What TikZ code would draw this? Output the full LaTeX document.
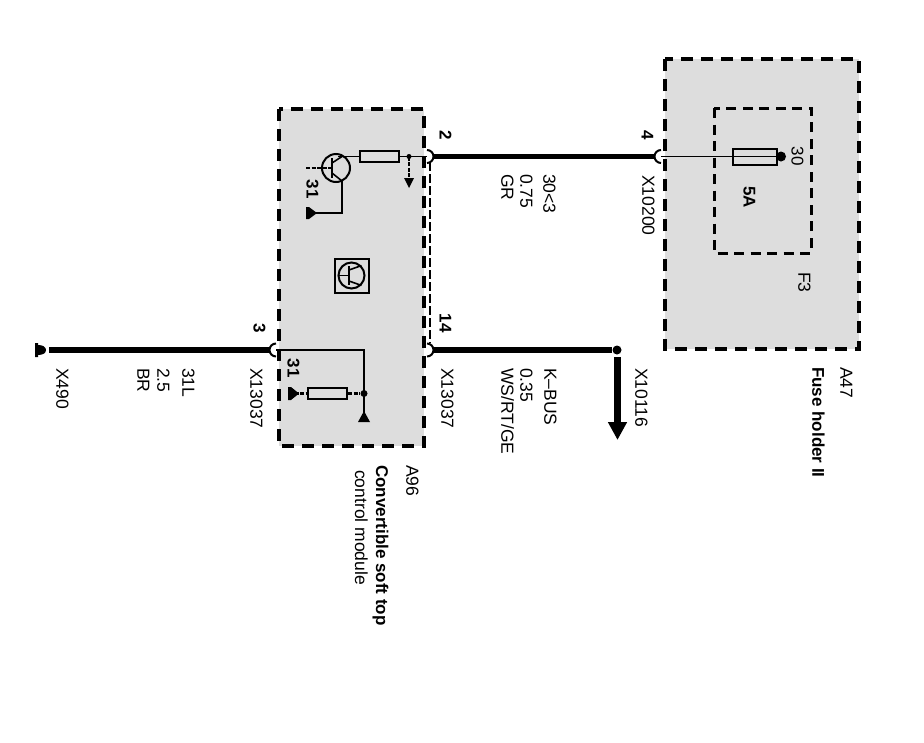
\documentclass[tikz,border=0pt]{standalone}
\usepackage{fontspec}
\setmainfont{Liberation Sans}
\usetikzlibrary{arrows.meta}

\definecolor{boxgray}{RGB}{221,221,221}

\tikzset{
 modulebox/.style = {draw, fill=boxgray, line width=3.6pt, dash pattern=on 12pt off 8pt},
 innerbox/.style = {draw, line width=3pt, dash pattern=on 10pt off 6.5pt},
 wire/.style = {line width=5.8pt},
 thinwire/.style = {line width=1.6pt},
 dashwire/.style = {line width=2.2pt, dash pattern=on 4pt off 1.5pt},
 part/.style = {draw, fill=boxgray, line width=2pt, minimum width=39pt, minimum height=11pt, inner sep=0pt},
 lbl/.style = {rotate=-90, anchor=west, inner sep=0pt, yshift=1.5pt, font=\fontsize{17.5pt}{17.5pt}\selectfont},
 headlbl/.style = {lbl, font=\fontsize{17pt}{17pt}\bfseries},
 pin/.style = {lbl, anchor=center, font=\fontsize{17pt}{17pt}\bfseries},
 dot/.style = {circle, fill, inner sep=0pt, minimum size=#1},
 plug/.style = {line width=2pt}
}

\begin{document}
\begin{tikzpicture}[x=1pt, y=-1pt]
\useasboundingbox (0,0) rectangle (924,742);

% modules
\draw[modulebox] (665,59) rectangle (859,349);
\draw[innerbox] (714,108) rectangle (811,253);
\draw[modulebox] (279,109) rectangle (424,446);
\draw[line width=1.2pt, dash pattern=on 9pt off 3pt] (430,162) -- (430,343);

% plugs
\coordinate (p2) at (427,156.5);
\coordinate (p14) at (427,350);
\coordinate (p4) at (661,156.5);
\coordinate (p3) at (276,350);
\draw[plug] (p2) ++(0,-6.5) arc [start angle=90, end angle=-90, radius=6.5pt];
\draw[plug] (p14) ++(0,-6.5) arc [start angle=90, end angle=-90, radius=6.5pt];
\draw[plug] (p4) ++(0,-6.5) arc [start angle=90, end angle=270, radius=6.5pt];
\draw[plug] (p3) ++(0,-6.5) arc [start angle=90, end angle=270, radius=6.5pt];

% wires
\coordinate (gnd) at (49,350);
\node[dot=9pt] (x10116) at (617,350) {};
\coordinate (busstart) at (617.5,357);
\coordinate (busend) at (617.5,440);
\draw[wire] (p2) ++(6.5,0) -- ([xshift=-6.5]p4);
\draw[wire] (p14) ++(6.5,0) -- (x10116);
\draw[wire] (gnd) -- ([xshift=-6.5]p3);
\draw[line width=7pt, -{Triangle[width=18pt,length=18pt]}] (busstart) -- (busend);
\fill (35,343) -- (38,343) -- (38,345) .. controls (43,345) and (46,347) .. (46,350) .. controls (46,353) and (43,355) .. (38,355) -- (38,357) -- (35,357) -- cycle;

% fuse
\node[part, minimum width=44pt, minimum height=16pt] (fuse) at (755,156.5) {};
\node[dot=10pt] (fusepin) at (781,156.5) {};
\draw[thinwire] (p4) -- (fusepin);
\node[pin, font=\fontsize{17pt}{17pt}\selectfont] (t30) at (796,156) {30};
\node[pin] (amps) at (748,197) {5A};

% transistor
\node[circle, draw, line width=2pt, minimum size=28pt, inner sep=0pt] (trans) at (336,168) {};
\node[part] (res1) at (379,156.5) {};
\coordinate (base) at (332,168);
\coordinate (emit) at (342,213);
\coordinate (gnd1) at (311,213);
\coordinate (sense) at (409,156.5);
\draw[thinwire] (338,156.5) -- (res1);
\draw[thinwire] (res1) -- (p2);
\draw[line width=2.4pt] (332,158) -- (332,178);
\draw[thinwire] (332,163) -- (342,156.5);
\draw[thinwire] (332,173) -- (342,181) -- (emit) -- (gnd1);
\draw[dashwire, line width=1.6pt] (306,168) -- (base);
\draw[dashwire] (sense) -- (409,178);
\fill (404,178) -- (414,178) -- (409,188) -- cycle;
\node[dot=5pt] at (sense) {};
\fill (306,207) -- (309,207) -- (317,213) -- (309,219) -- (306,219) -- cycle;
\node[pin] (t31a) at (311,189) {31};

% icon
\node[draw, fill=boxgray, line width=2pt, minimum size=34pt, inner sep=0pt] (icon) at (351.5,275.5) {};
\node[circle, draw, line width=2pt, minimum size=26pt, inner sep=0pt] (iconc) at (351.5,275.5) {};
\coordinate (ibar) at (349,275.5);
\draw[line width=1.6pt] (iconc.west) -- (ibar);
\draw[line width=2.2pt] (349,266) -- (349,285);
\draw[line width=1.6pt] (349,270) -- (iconc.north east);
\draw[line width=1.6pt] (349,281) -- (iconc.south east);

% lower part
\node[part] (res2) at (327.5,393.5) {};
\node[dot=7pt] (junc) at (364,393.5) {};
\coordinate (gnd2) at (289,393.5);
\coordinate (tri) at (364,413);
\draw[thinwire] (p3) -- (364,350) -- (tri);
\draw[dashwire] (gnd2) -- (res2);
\draw[dashwire] (res2) -- (junc);
\fill (288,387) -- (291,387) -- (299,393.5) -- (291,400) -- (288,400) -- cycle;
\fill (358,422) -- (364,411) -- (370,422) -- cycle;
\node[pin] (t31b) at (292,368) {31};

% labels
\node[pin] (t2) at (444,135) {2};
\node[pin] (t14) at (444,323) {14};
\node[pin] (t3) at (258,328) {3};
\node[pin] (t4) at (646,135) {4};

\node[lbl] (l1) at (647,175) {X10200};
\node[lbl] (l2) at (548,174) {30<3};
\node[lbl] (l3) at (525,174) {0.75};
\node[lbl] (l4) at (506,174) {GR};

\node[lbl] (l5) at (640,368) {X10116};
\node[lbl] (l6) at (549,368) {K--BUS};
\node[lbl] (l7) at (525,368) {0.35};
\node[lbl] (l8) at (506,368) {WS/RT/GE};
\node[lbl] (l9) at (446,368) {X13037};
\node[lbl] (l10) at (255,368) {X13037};
\node[lbl] (l11) at (187,368) {31L};
\node[lbl] (l12) at (162,368) {2.5};
\node[lbl] (l13) at (142,368) {BR};
\node[lbl] (l14) at (61,368) {X490};

\node[lbl] (a96) at (411,465) {A96};
\node[headlbl] (a96a) at (379,465) {Convertible soft top};
\node[lbl] (a96b) at (360,470) {control module};
\node[lbl] (a47) at (845,367) {A47};
\node[headlbl] (a47a) at (817,367) {Fuse holder II};
\node[lbl] (f3) at (803,272) {F3};
\end{tikzpicture}
\end{document}
